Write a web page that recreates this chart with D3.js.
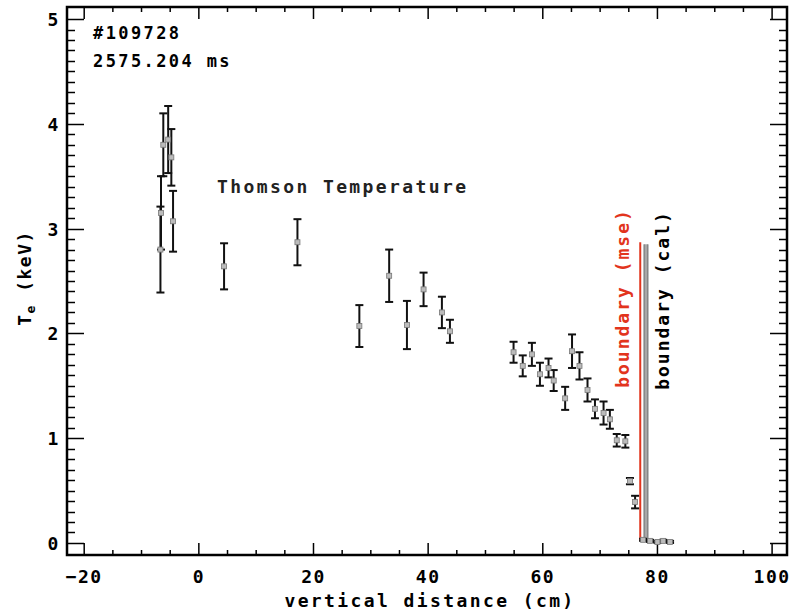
<!DOCTYPE html>
<html>
<head>
<meta charset="utf-8">
<script src="https://cdn.jsdelivr.net/npm/d3@7"></script>
<style>
body { margin: 0; background: #fff; }
svg text { font-family: "DejaVu Sans Mono", "Liberation Mono", monospace; font-weight: bold; }
</style>
</head>
<body>
<div id="chart"></div>
<script>
// Thomson scattering Te profile, shot #109728
const shotLabel = '#109728';
const timeLabel = '2575.204 ms';
const seriesLabel = 'Thomson Temperature';

// channel position (cm), Te (keV), error (keV)
const tsX   = [-6.7, -6.6, -6.2, -5.35, -4.8, -4.5, 4.4, 17.2, 28.0, 33.2, 36.3, 39.2, 42.4, 43.8,
               54.9, 56.5, 58.1, 59.5, 61.0, 61.9, 63.9, 65.1, 66.4, 67.8, 69.1, 70.6, 71.7, 72.9, 74.4,
               75.2, 76.1, 77.5, 78.7, 80.0, 81.0, 82.2];
const tsTe  = [2.80, 3.15, 3.80, 3.85, 3.68, 3.07, 2.64, 2.87, 2.07, 2.55, 2.08, 2.42, 2.20, 2.02,
               1.82, 1.69, 1.80, 1.61, 1.67, 1.55, 1.38, 1.83, 1.69, 1.46, 1.28, 1.24, 1.18, 0.98, 0.97,
               0.59, 0.39, 0.03, 0.02, 0.01, 0.02, 0.01];
const tsErr = [0.41, 0.35, 0.30, 0.32, 0.27, 0.29, 0.22, 0.22, 0.20, 0.25, 0.23, 0.16, 0.15, 0.11,
               0.10, 0.10, 0.11, 0.11, 0.09, 0.10, 0.11, 0.16, 0.13, 0.11, 0.09, 0.11, 0.09, 0.06, 0.06,
               0.03, 0.06, 0.01, 0.01, 0.01, 0.01, 0.01];

// boundary positions (cm) and the height of the marker line (keV)
const boundaryNames = ['boundary (mse)', 'boundary (cal)'];
const boundaryX = [77.0, 78.0];
const boundaryTop = [2.87, 2.85];

const xTicks = [-20, 0, 20, 40, 60, 80, 100];
const yTicks = [0, 1, 2, 3, 4, 5];

const width = 791, height = 613;
const plot = {left: 67, right: 787, top: 7, bottom: 555};

const svg = d3.select('#chart').append('svg')
	.attr('width', width)
	.attr('height', height);

const x = d3.scaleLinear().domain([-23, 102.6]).range([plot.left, plot.right]);
const y = d3.scaleLinear().domain([-0.115, 5.115]).range([plot.bottom, plot.top]);

// ticks, IDL style: inward, mirrored on all four sides
const xMinor = d3.range(-20, 101, 5);
const yMinor = d3.range(0, 5.001, 0.1);
const tickG = svg.append('g').attr('stroke', '#000').attr('stroke-width', 1.5);
xMinor.forEach(v => {
	const len = xTicks.includes(v) ? 12 : 5;
	tickG.append('line').attr('x1', x(v)).attr('x2', x(v)).attr('y1', plot.bottom).attr('y2', plot.bottom - len);
	tickG.append('line').attr('x1', x(v)).attr('x2', x(v)).attr('y1', plot.top).attr('y2', plot.top + len);
});
yMinor.forEach(v => {
	const major = Math.abs(v - Math.round(v)) < 1e-6;
	const len = major ? 17 : 8;
	const py = Math.round(y(v)) + 0.5;
	tickG.append('line').attr('x1', plot.left).attr('x2', plot.left + len).attr('y1', py).attr('y2', py);
	tickG.append('line').attr('x1', plot.right).attr('x2', plot.right - len).attr('y1', py).attr('y2', py);
});

svg.append('rect')
	.attr('x', plot.left).attr('y', plot.top)
	.attr('width', plot.right - plot.left).attr('height', plot.bottom - plot.top)
	.attr('fill', 'none').attr('stroke', '#000').attr('stroke-width', 2.5);

// tick labels
svg.append('g').selectAll('text').data(xTicks).join('text')
	.attr('x', d => x(d)).attr('y', 583)
	.attr('text-anchor', 'middle')
	.attr('font-size', 18).attr('letter-spacing', 1.5)
	.text(d => d < 0 ? '\u2212' + Math.abs(d) : d);
svg.append('g').selectAll('text').data(yTicks).join('text')
	.attr('x', 53).attr('y', d => y(d) + 7)
	.attr('text-anchor', 'middle')
	.attr('font-size', 18)
	.text(d => d);

// axis titles
svg.append('text')
	.attr('x', 430).attr('y', 607)
	.attr('text-anchor', 'middle')
	.attr('font-size', 18).attr('letter-spacing', 2.4)
	.text('vertical distance (cm)');
const yTitle = svg.append('text')
	.attr('transform', 'translate(31,278) rotate(-90)')
	.attr('text-anchor', 'middle')
	.attr('font-size', 18).attr('letter-spacing', 1.5);
yTitle.append('tspan').text('T');
yTitle.append('tspan').attr('font-size', 13).attr('dy', 4).text('e');
yTitle.append('tspan').attr('dy', -4).text(' (keV)');

// boundary markers
const bColors = ['#e2341d', '#a8a8a8'];
const bWidth = [2, 4];
boundaryX.forEach((b, i) => {
	svg.append('line')
		.attr('x1', x(b)).attr('x2', x(b))
		.attr('y1', y(boundaryTop[i])).attr('y2', y(0.02))
		.attr('stroke', bColors[i]).attr('stroke-width', bWidth[i]);
});
svg.append('line')
	.attr('x1', x(boundaryX[1]) - 2).attr('x2', x(boundaryX[1]) - 2)
	.attr('y1', y(boundaryTop[1])).attr('y2', y(0.02))
	.attr('stroke', '#555').attr('stroke-width', 0.8);
svg.append('line')
	.attr('x1', x(boundaryX[1]) + 2).attr('x2', x(boundaryX[1]) + 2)
	.attr('y1', y(boundaryTop[1])).attr('y2', y(0.02))
	.attr('stroke', '#555').attr('stroke-width', 0.8);

svg.append('text')
	.attr('transform', `translate(${x(boundaryX[0]) - 11},298) rotate(-90)`)
	.attr('text-anchor', 'middle')
	.attr('font-size', 18).attr('letter-spacing', 2)
	.attr('fill', '#e2341d')
	.text(boundaryNames[0]);
svg.append('text')
	.attr('transform', `translate(${x(boundaryX[1]) + 23},300) rotate(-90)`)
	.attr('text-anchor', 'middle')
	.attr('font-size', 18).attr('letter-spacing', 2)
	.attr('fill', '#000')
	.text(boundaryNames[1]);

// error bars
const pts = tsX.map((v, i) => ({x: v, te: tsTe[i], err: tsErr[i]}));
const eb = svg.append('g').attr('stroke', '#111').attr('stroke-width', 2);
pts.forEach(d => {
	const px = x(d.x);
	eb.append('line').attr('x1', px).attr('x2', px).attr('y1', y(d.te + d.err)).attr('y2', y(d.te - d.err));
	eb.append('line').attr('x1', px - 4).attr('x2', px + 4).attr('y1', y(d.te + d.err)).attr('y2', y(d.te + d.err));
	eb.append('line').attr('x1', px - 4).attr('x2', px + 4).attr('y1', y(d.te - d.err)).attr('y2', y(d.te - d.err));
});
svg.append('g').selectAll('rect').data(pts).join('rect')
	.attr('x', d => x(d.x) - 2.5).attr('y', d => y(d.te) - 2.5)
	.attr('width', 5).attr('height', 5)
	.attr('fill', '#bbb').attr('stroke', '#777').attr('stroke-width', 0.8);

// annotations
svg.append('text').attr('x', 93).attr('y', 39)
	.attr('font-size', 17).attr('letter-spacing', 2.4).text(shotLabel);
svg.append('text').attr('x', 93).attr('y', 67)
	.attr('font-size', 17).attr('letter-spacing', 2.4).text(timeLabel);
svg.append('text').attr('x', 217).attr('y', 193)
	.attr('font-size', 18).attr('letter-spacing', 2.4)
	.attr('fill', '#222')
	.text(seriesLabel);
</script>
</body>
</html>
